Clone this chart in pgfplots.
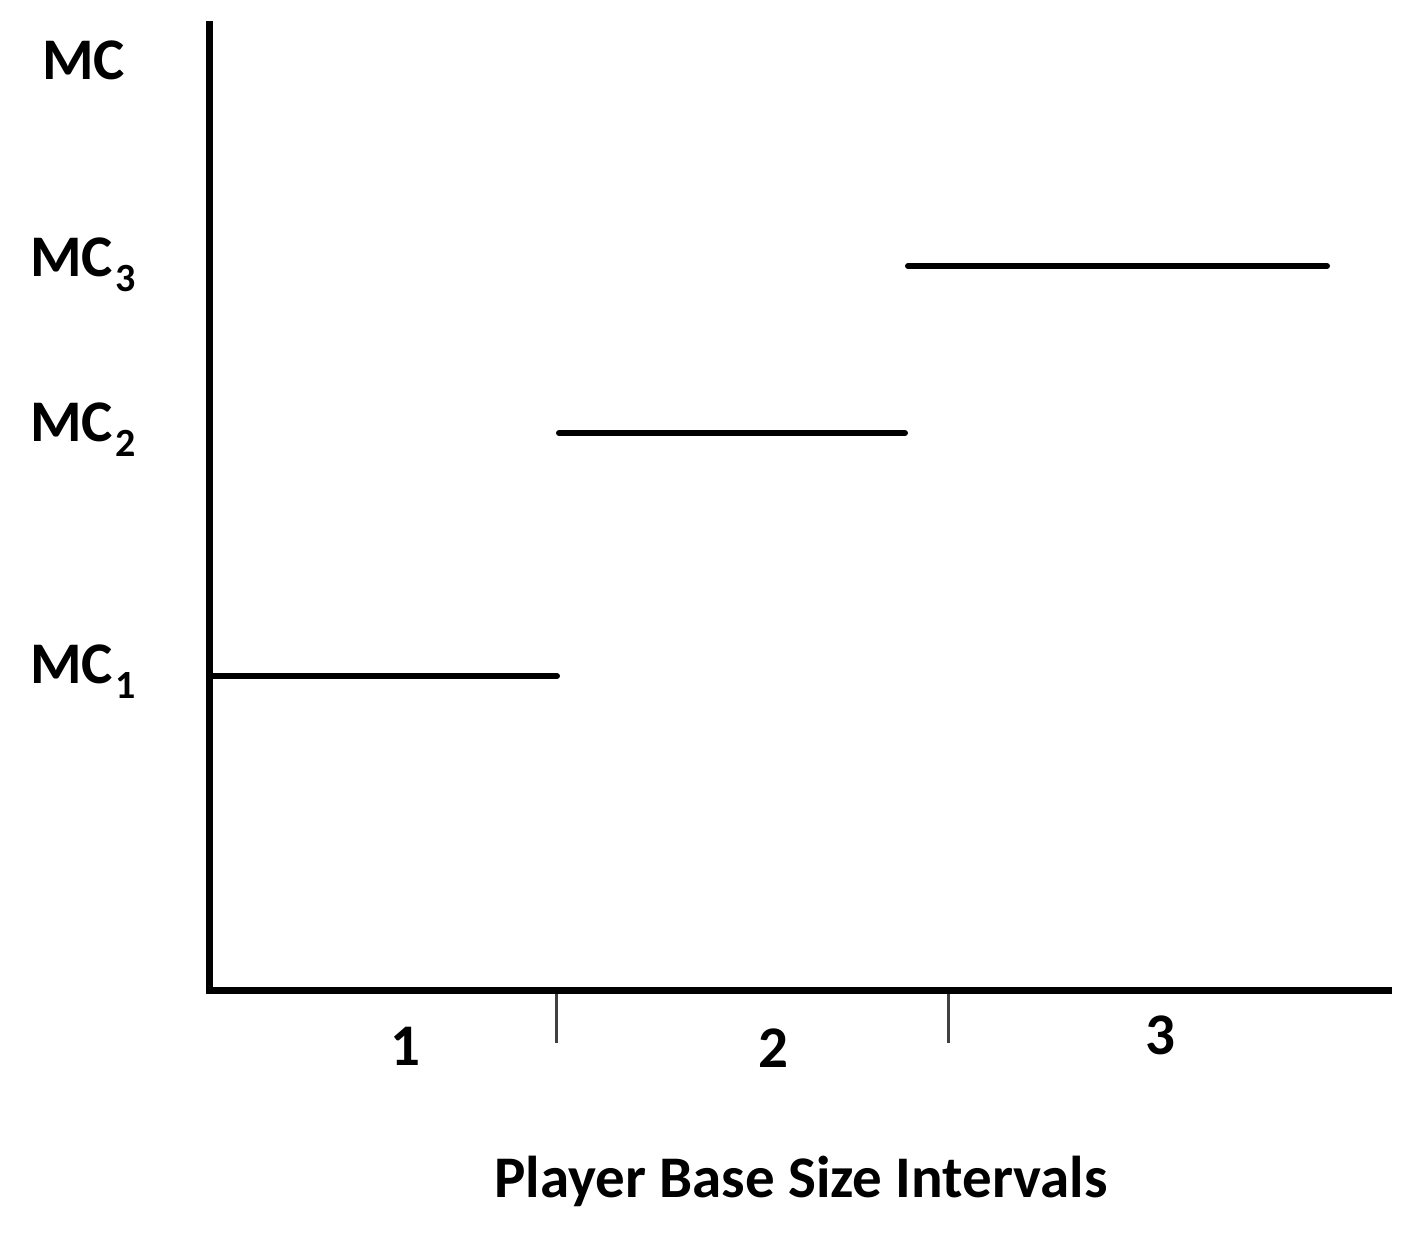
\documentclass[border=0pt]{standalone}
\usepackage{fontspec}
\setmainfont{Carlito}
\usepackage{pgfplots}
\pgfplotsset{compat=1.18}

\newcommand{\sub}[1]{\kern1pt\raisebox{-7.5pt}{\fontsize{20}{24}\selectfont #1}}

% one unit = one pixel of the reference, 0.5pt each
\begin{document}
\begin{tikzpicture}
\begin{axis}[
  scale only axis,
  width=589pt, height=483pt,
  xmin=210, xmax=1388,
  ymin=0, ymax=966,
  axis lines*=left,
  axis line style={line width=3.5pt, line cap=rect},
  xtick={556,948},
  xticklabels={},
  ytick=\empty,
  tick align=outside,
  major tick length=26pt,
  xtick style={line width=1.5pt, black!75},
  clip=false,
  font=\fontsize{29.5}{34}\selectfont\bfseries,
]
% marginal cost steps
\addplot[black, line width=3pt, line cap=round] coordinates {(212,315) (557,315)};
\addplot[black, line width=3pt, line cap=round] coordinates {(559,558) (905,558)};
\addplot[black, line width=3pt, line cap=round] coordinates {(908,725) (1327,725)};

% labels
\node[anchor=base west, inner sep=0pt] at (axis cs:42,911) {MC};
\node[anchor=base west, inner sep=0pt] at (axis cs:30,714) {MC\sub{3}};
\node[anchor=base west, inner sep=0pt] at (axis cs:30,549) {MC\sub{2}};
\node[anchor=base west, inner sep=0pt] at (axis cs:30,307) {MC\sub{1}};
\node[anchor=base, inner sep=0pt] at (axis cs:405,-75) {1};
\node[anchor=base, inner sep=0pt] at (axis cs:773,-77) {2};
\node[anchor=base, inner sep=0pt] at (axis cs:1160,-64) {3};
\node[anchor=base, inner sep=0pt] at (axis cs:801,-207) {Player Base Size Intervals};

\path[use as bounding box] (axis cs:0,-249) rectangle (axis cs:1413,991);
\end{axis}
\end{tikzpicture}
\end{document}
